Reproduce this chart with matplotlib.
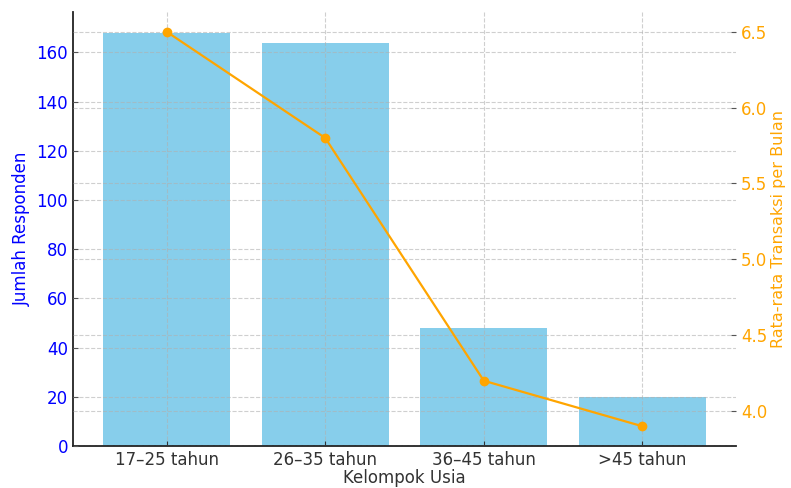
import matplotlib
matplotlib.use("Agg")
import matplotlib.pyplot as plt

categories = ["17–25 tahun", "26–35 tahun", "36–45 tahun", ">45 tahun"]
respondents = [168, 164, 48, 20]
avg_transactions = [6.5, 5.8, 4.2, 3.9]

plt.rcParams['font.family'] = ['DejaVu Sans']
plt.rcParams['font.size'] = 12
plt.rcParams['xtick.direction'] = 'in'
plt.rcParams['ytick.direction'] = 'in'

fig = plt.figure(figsize=(7.91, 4.88), dpi=100)
ax1 = fig.add_axes([73/791, 1-446/488, (736-73)/791, (446-12)/488])
x = range(len(categories))
ax1.bar(x, respondents, width=0.8, color='skyblue', zorder=1)
ax1.set_ylim(0, max(respondents)*1.05)
ax1.set_xticks(list(x))
ax1.set_xticklabels(categories, color='#333333')
ax1.set_xlabel("Kelompok Usia", color='#333333', labelpad=0)
ax1.set_ylabel("Jumlah Responden", color='blue')
ax1.tick_params(axis='y', labelcolor='blue', color='#555555')
ax1.tick_params(axis='x', color='#333333')
ax1.set_axisbelow(False)
ax1.grid(True, linestyle='--', color='#b0b0b0', alpha=0.6, linewidth=0.8, zorder=2)
for s in ['top', 'right']:
    ax1.spines[s].set_visible(False)
for s in ['left', 'bottom']:
    ax1.spines[s].set_color('#222222')
    ax1.spines[s].set_linewidth(1.3)

ax2 = ax1.twinx()
ax2.plot(list(x), avg_transactions, color='orange', marker='o', linewidth=1.6, markersize=6, zorder=3)
ax2.set_ylabel("Rata-rata Transaksi per Bulan", color='orange', fontsize=11.5, labelpad=3)
ax2.tick_params(axis='y', labelcolor='orange', color='#555555')
ax2.grid(True, linestyle='--', color='#b0b0b0', alpha=0.6, linewidth=0.8)
for s in ['top', 'right', 'left', 'bottom']:
    ax2.spines[s].set_visible(False)

fig.savefig("out.png", dpi=100)
